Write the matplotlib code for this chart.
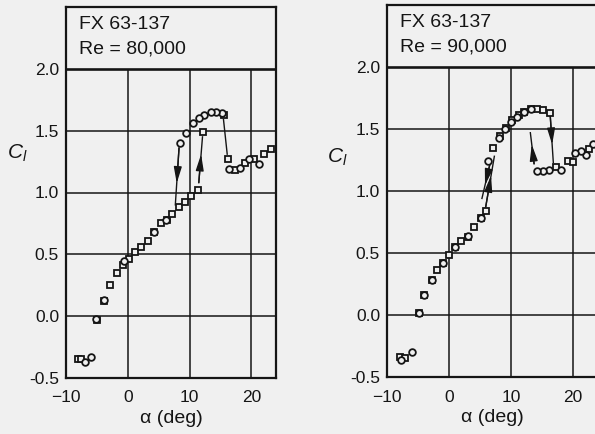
import matplotlib
matplotlib.use("Agg")
import matplotlib.pyplot as plt

plt.rcParams['font.family'] = ['Liberation Sans', 'DejaVu Sans']
plt.rcParams['mathtext.fontset'] = 'custom'
plt.rcParams['mathtext.it'] = 'Liberation Sans:italic'
plt.rcParams['mathtext.rm'] = 'Liberation Sans'

BG = '#f0f0f0'
INK = '#151515'

# Re = 80,000 : squares = increasing alpha, circles = decreasing alpha
sq_a_80 = [-8.1, -7.6, -5.0, -3.9, -2.9, -1.8, -0.7, 0.2, 1.1, 2.2, 3.2, 4.3, 5.3, 6.3,
           7.2, 8.3, 9.2, 10.3, 11.3, 12.1, 15.6, 16.2, 17.3, 18.9, 20.5, 22.1, 23.2]
sq_cl_80 = [-0.35, -0.35, -0.03, 0.12, 0.25, 0.35, 0.41, 0.46, 0.52, 0.56, 0.61, 0.68, 0.75, 0.78,
            0.83, 0.88, 0.92, 0.97, 1.02, 1.49, 1.63, 1.27, 1.18, 1.24, 1.27, 1.31, 1.35]
ci_a_80 = [21.3, 19.7, 18.1, 16.4, 15.2, 14.3, 13.4, 12.4, 11.5, 10.5, 9.5, 8.4,
           6.2, 4.2, -0.6, -3.9, -5.1, -6.0, -6.9]
ci_cl_80 = [1.23, 1.27, 1.20, 1.19, 1.64, 1.65, 1.65, 1.63, 1.60, 1.56, 1.48, 1.40,
            0.78, 0.68, 0.45, 0.13, -0.02, -0.33, -0.37]

# Re = 90,000
sq_a_90 = [-7.9, -7.1, -4.9, -4.0, -2.8, -1.9, -1.0, 0.0, 1.0, 2.0, 3.0, 4.0, 5.1, 6.0,
           7.1, 8.2, 9.2, 10.2, 11.2, 12.1, 13.2, 14.2, 15.2, 16.3, 17.2, 19.1, 20.0, 22.6]
sq_cl_90 = [-0.34, -0.35, 0.02, 0.16, 0.28, 0.36, 0.42, 0.48, 0.55, 0.60, 0.63, 0.71, 0.78, 0.84,
            1.35, 1.44, 1.51, 1.57, 1.61, 1.64, 1.66, 1.66, 1.65, 1.63, 1.19, 1.24, 1.23, 1.34]
ci_a_90 = [23.2, 22.0, 21.2, 20.3, 18.1, 16.1, 15.2, 14.2, 13.2, 12.0, 11.0, 10.0, 9.0,
           8.1, 6.3, 5.1, 3.1, 1.0, -1.0, -2.8, -4.0, -4.9, -5.9, -7.8]
ci_cl_90 = [1.38, 1.29, 1.32, 1.31, 1.17, 1.17, 1.16, 1.16, 1.66, 1.64, 1.60, 1.56, 1.50,
            1.43, 1.24, 0.78, 0.64, 0.55, 0.42, 0.28, 0.16, 0.02, -0.30, -0.36]

# hysteresis lines: (start, end, arrow head?)
links_80 = [((8.3, 1.36), (7.7, 0.90), True),
            ((11.5, 1.08), (12.1, 1.45), True),
            ((15.5, 1.59), (16.1, 1.31), False)]
links_90 = [((6.6, 1.22), (5.3, 0.94), True),
            ((5.9, 0.87), (7.3, 1.28), True),
            ((13.7, 1.22), (13.1, 1.47), True),
            ((16.3, 1.61), (16.8, 1.23), True)]

xticks = [-10, 0, 10, 20]
yticks = [-0.5, 0.0, 0.5, 1.0, 1.5, 2.0]

fig = plt.figure(figsize=(5.95, 4.34), dpi=100, facecolor=BG)


def panel(rect, sq_a, sq_cl, ci_a, ci_cl, links, re_text, ylab_xy):
    ax = fig.add_axes(rect, facecolor=BG)
    ax.set_xlim(-10, 24)
    ax.set_ylim(-0.5, 2.5)
    for v in [0, 10, 20]:
        ax.vlines(v, -0.5, 2.0, color=INK, lw=1.1, zorder=1)
    for h in [0.0, 0.5, 1.0, 1.5]:
        ax.hlines(h, -10, 24, color=INK, lw=1.1, zorder=1)
    ax.hlines(2.0, -10, 24, color=INK, lw=1.9, zorder=1)
    for s in ax.spines.values():
        s.set_linewidth(1.6)
        s.set_color(INK)
    ax.set_xticks(xticks)
    ax.set_yticks(yticks)
    ax.set_yticklabels(['%.1f' % t for t in yticks])
    ax.tick_params(length=0, labelsize=12.5, colors=INK)
    ax.tick_params(axis='x', pad=9)
    ax.tick_params(axis='y', pad=5)
    ax.set_xlabel('α (deg)', fontsize=14, color=INK, labelpad=3)

    for (x0, y0), (x1, y1), head in links:
        ax.plot([x0, x1], [y0, y1], color=INK, lw=1.0, zorder=2)
        if head:
            f = 0.62
            ax.annotate('', xy=(x0 + f * (x1 - x0), y0 + f * (y1 - y0)), xytext=(x0, y0),
                        arrowprops=dict(arrowstyle='-|>,head_length=0.7,head_width=0.17',
                                        color=INK, lw=1.0, shrinkA=0, shrinkB=0,
                                        mutation_scale=14), zorder=3)

    ax.plot(sq_a, sq_cl, ls='none', marker='s', ms=4.6, mfc=BG, mec=INK, mew=1.3, zorder=4)
    ax.plot(ci_a, ci_cl, ls='none', marker='o', ms=4.8, mfc=BG, mec=INK, mew=1.3, zorder=4)

    ax.text(0.062, 0.975, 'FX 63-137', transform=ax.transAxes, fontsize=14,
            color=INK, ha='left', va='top')
    ax.text(0.062, 0.910, re_text, transform=ax.transAxes, fontsize=14,
            color=INK, ha='left', va='top')
    fig.text(ylab_xy[0], ylab_xy[1], '$C_l$', fontsize=15, color=INK,
             ha='center', va='center')
    return ax


panel([66 / 595, 1 - 378 / 434, 210 / 595, 371 / 434],
      sq_a_80, sq_cl_80, ci_a_80, ci_cl_80, links_80, 'Re = 80,000',
      (17 / 595, 1 - 153 / 434))
panel([387 / 595, 1 - 377 / 434, 211 / 595, 372 / 434],
      sq_a_90, sq_cl_90, ci_a_90, ci_cl_90, links_90, 'Re = 90,000',
      (337 / 595, 1 - 157 / 434))

fig.savefig('out.png', dpi=100, facecolor=BG)
